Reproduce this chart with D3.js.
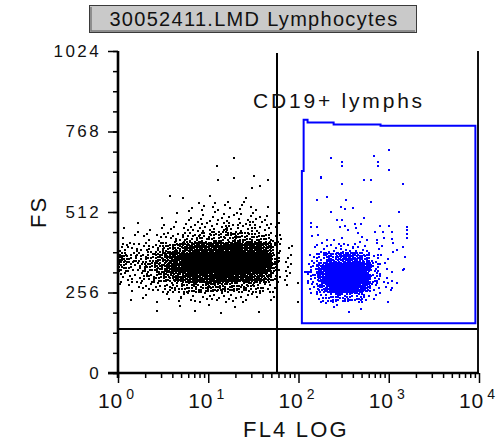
<!DOCTYPE html>
<html>
<head>
<meta charset="utf-8">
<script src="https://cdn.jsdelivr.net/npm/d3@7"></script>
<style>
  body { margin: 0; background: #fff; }
  svg text { font-family: "Liberation Sans", Arial, sans-serif; fill: #111; }
</style>
</head>
<body>
<div id="chart"></div>
<script>
const TITLE = "30052411.LMD Lymphocytes";
const GATE_LABEL = "CD19+ lymphs";
const X_LABEL = "FL4 LOG";
const Y_LABEL = "FS";
const Y_TICKS = [0, 256, 512, 768, 1024];
const X_DECADES = [0, 1, 2, 3, 4];
const QUAD_FL4 = 58;
const QUAD_FS = 140;

// gate polygon, [FL4, FS]
const GATE = [[109, 158], [109, 642], [114, 642], [114, 805], [126, 805], [126, 797],
  [245, 797], [245, 790], [811, 790], [811, 786], [9120, 786], [9120, 158]];

// black population: event counts per cell, columns are 0.1-decade FL4 bins from 10^0,
// rows are 32-channel FS bins (lower edge listed)
const BLACK_ROW_FS = [512, 480, 448, 416, 384, 352, 320, 288, 256, 224, 192];
const BLACK_COUNTS = [
  [0, 0, 0, 0, 0, 0, 0, 1, 2, 2, 2, 2, 2, 2, 2, 1, 1, 0, 0, 0],
  [0, 0, 0, 0, 1, 0, 1, 1, 2, 2, 3, 3, 3, 3, 3, 3, 2, 1, 0, 0],
  [1, 0, 1, 1, 1, 2, 2, 3, 4, 5, 5, 6, 6, 6, 6, 5, 4, 2, 0, 0],
  [1, 1, 2, 2, 3, 4, 5, 7, 9, 10, 11, 12, 12, 12, 12, 11, 9, 4, 1, 0],
  [5, 4, 5, 6, 8, 12, 17, 24, 30, 33, 36, 38, 39, 39, 38, 36, 27, 8, 1, 1],
  [16, 7, 9, 11, 16, 24, 35, 50, 60, 66, 70, 74, 75, 75, 74, 66, 50, 12, 2, 1],
  [14, 7, 9, 12, 18, 27, 38, 54, 64, 70, 74, 75, 75, 74, 70, 64, 46, 11, 2, 1],
  [5, 5, 6, 8, 12, 16, 22, 30, 36, 39, 42, 42, 42, 39, 36, 30, 21, 6, 2, 1],
  [1, 2, 3, 4, 5, 7, 9, 12, 13, 14, 16, 16, 14, 13, 12, 9, 6, 2, 1, 1],
  [0, 1, 1, 1, 1, 2, 2, 3, 3, 4, 4, 4, 3, 3, 3, 2, 1, 1, 0, 1],
  [0, 0, 0, 0, 1, 0, 1, 0, 1, 0, 1, 1, 0, 1, 0, 1, 0, 0, 0, 0]
];
const BLACK_SPARSE = [[19.2, 684], [12.5, 658], [12.8, 614], [19.2, 620], [31.9, 626], [45.6, 614],
  [37.2, 595], [30.4, 588], [3.76, 563], [5.24, 556], [10.4, 563], [26.1, 556]];

// blue (gated) population: columns start at 10^2.1
const BLUE_COL_START = 21;
const BLUE_ROW_FS = [384, 352, 320, 288, 256, 224, 192];
const BLUE_COUNTS = [
  [1, 3, 4, 5, 5, 5, 3, 2, 1, 1, 0, 0],
  [3, 10, 18, 24, 27, 24, 16, 5, 2, 1, 0, 0],
  [6, 26, 50, 64, 66, 60, 38, 9, 3, 1, 1, 0],
  [8, 32, 60, 72, 72, 64, 42, 9, 3, 1, 0, 0],
  [4, 18, 40, 52, 52, 44, 26, 5, 2, 1, 0, 0],
  [1, 6, 11, 14, 14, 11, 6, 2, 1, 0, 0, 0],
  [0, 0, 1, 1, 1, 1, 0, 0, 0, 0, 0, 0]
];
const BLUE_SPARSE = [[227, 684], [301, 671], [301, 658], [679, 690], [752, 671], [752, 658], [995, 709],
  [995, 646], [176, 623], [176, 620], [301, 601], [526, 614], [629, 614], [1422, 601], [159, 550],
  [205, 560], [333, 550], [629, 544], [293, 528], [324, 522], [398, 525], [227, 512], [1283, 512],
  [526, 493], [265, 487], [301, 487], [136, 477], [136, 464], [159, 464], [286, 464], [324, 467],
  [419, 474], [488, 474], [791, 467], [995, 467], [1573, 464], [1573, 455], [350, 455], [429, 461],
  [452, 445], [697, 448], [853, 448], [1074, 448], [1573, 442], [1573, 429], [140, 436], [163, 439],
  [205, 423], [245, 423], [301, 429], [500, 432], [568, 423], [733, 423], [876, 429], [1074, 426],
  [1250, 391], [1422, 401], [1496, 369], [1422, 328], [1250, 286], [1074, 270], [791, 254],
  [117, 321], [124, 321], [130, 321], [137, 321]];

const width = 499;
const height = 443;

const svg = d3.select("#chart").append("svg")
  .attr("width", width)
  .attr("height", height);

const x = d3.scaleLog().domain([1, 1e4]).range([118, 479]);
const y = d3.scaleLinear().domain([0, 1024]).range([373, 51]);

// spread each cell's count over the cell (fixed low-discrepancy layout, not random)
function cellEvents(counts, rowFs, colStart, seedBase) {
  const out = [];
  counts.forEach((row, r) => row.forEach((n, c) => {
    const seed = r * 37 + c * 11 + seedBase;
    for (let k = 0; k < n; k++) {
      const i = seed + k;
      const u = (0.5 + i * 0.7548776662) % 1;
      const v = (0.5 + i * 0.5698402910) % 1;
      out.push([Math.pow(10, (colStart + c + u) * 0.1), rowFs[r] + v * 32]);
    }
  }));
  return out;
}

const blackEvents = cellEvents(BLACK_COUNTS, BLACK_ROW_FS, 0, 3).concat(BLACK_SPARSE);
const blueEvents = cellEvents(BLUE_COUNTS, BLUE_ROW_FS, BLUE_COL_START, 7).concat(BLUE_SPARSE);

// title box
const gTitle = svg.append("g");
gTitle.append("rect")
  .attr("x", 89.5).attr("y", 5.5).attr("width", 327).attr("height", 27)
  .attr("fill", "#c9c9c9").attr("stroke", "#3a3a3a").attr("stroke-width", 1);
gTitle.append("path")
  .attr("d", "M91,7 V31 H415")
  .attr("fill", "none").attr("stroke", "#7a7a7a").attr("stroke-width", 1.5);
gTitle.append("text")
  .attr("x", 254).attr("y", 26)
  .attr("text-anchor", "middle")
  .style("font-size", "20px")
  .style("letter-spacing", "1.3px")
  .text(TITLE);

// dots
const gDots = svg.append("g").attr("shape-rendering", "crispEdges");
gDots.selectAll("rect.black")
  .data(blackEvents)
  .enter().append("rect")
  .attr("class", "black")
  .attr("x", d => Math.round(x(d[0])) - 1)
  .attr("y", d => Math.round(y(d[1])) - 1)
  .attr("width", 2).attr("height", 2)
  .attr("fill", "#000");
gDots.selectAll("rect.blue")
  .data(blueEvents)
  .enter().append("rect")
  .attr("class", "blue")
  .attr("x", d => Math.round(x(d[0])) - 1)
  .attr("y", d => Math.round(y(d[1])) - 1)
  .attr("width", 2).attr("height", 2)
  .attr("fill", "#0000ff");

// quadrant lines and right border
const gLines = svg.append("g").attr("shape-rendering", "crispEdges");
gLines.append("line")
  .attr("x1", x(1)).attr("x2", x(1e4) - 1)
  .attr("y1", Math.round(y(QUAD_FS))).attr("y2", Math.round(y(QUAD_FS)))
  .attr("stroke", "#000").attr("stroke-width", 2);
gLines.append("line")
  .attr("x1", Math.round(x(QUAD_FL4))).attr("x2", Math.round(x(QUAD_FL4)))
  .attr("y1", 53).attr("y2", y(0))
  .attr("stroke", "#000").attr("stroke-width", 2);
gLines.append("line")
  .attr("x1", 478).attr("x2", 478)
  .attr("y1", y(1024)).attr("y2", y(0))
  .attr("stroke", "#111").attr("stroke-width", 2);

// gate
svg.append("path")
  .datum(GATE)
  .attr("d", d3.line().x(d => x(d[0])).y(d => y(d[1])).curve(d3.curveLinearClosed))
  .attr("fill", "none")
  .attr("stroke", "#0000ff")
  .attr("stroke-width", 2);

svg.append("text")
  .attr("x", 253).attr("y", 108)
  .style("font-size", "21px")
  .style("letter-spacing", "2.8px")
  .text(GATE_LABEL);

// y axis
const yMinor = svg.append("g")
  .attr("transform", `translate(${x(1)},0)`)
  .call(d3.axisLeft(y).tickValues(d3.range(0, 1025, 64)).tickSize(5).tickSizeOuter(0).tickFormat(""));
yMinor.select(".domain").remove();
yMinor.selectAll("line").attr("stroke", "#000").attr("stroke-width", 1.5);

const yAxis = svg.append("g")
  .attr("transform", `translate(${x(1)},0)`)
  .call(d3.axisLeft(y).tickValues(Y_TICKS).tickSize(10).tickSizeOuter(0).tickPadding(7).tickFormat(d3.format("d")));
yAxis.select(".domain").attr("stroke", "#000").attr("stroke-width", 2.6)
  .attr("d", `M0,${y(1024)}V${y(0) + 5}`);
yAxis.selectAll("line").attr("stroke", "#000").attr("stroke-width", 1.5);
yAxis.selectAll("text")
  .style("font-size", "17px")
  .style("letter-spacing", "2.4px")
  .attr("fill", "#111");

// x axis
const minorX = [];
X_DECADES.slice(0, -1).forEach(e => {
  for (let m = 2; m <= 9; m++) minorX.push(m * Math.pow(10, e));
});
const xMinor = svg.append("g")
  .attr("transform", `translate(0,${y(0)})`)
  .call(d3.axisBottom(x).tickValues(minorX).tickSize(5).tickSizeOuter(0).tickFormat(""));
xMinor.select(".domain").remove();
xMinor.selectAll("line").attr("stroke", "#000").attr("stroke-width", 1.5);

const xAxis = svg.append("g")
  .attr("transform", `translate(0,${y(0)})`)
  .call(d3.axisBottom(x).tickValues(X_DECADES.map(e => Math.pow(10, e))).tickSize(10).tickSizeOuter(0).tickFormat(""));
xAxis.select(".domain").attr("stroke", "#000").attr("stroke-width", 2.6)
  .attr("d", `M${x(1) - 10},0H${x(1e4)}`);
xAxis.selectAll("line").attr("stroke", "#000").attr("stroke-width", 1.5);

const xLabels = svg.append("g").selectAll("text")
  .data(X_DECADES)
  .enter().append("text")
  .attr("x", e => x(Math.pow(10, e)) - 2)
  .attr("y", 408)
  .attr("text-anchor", "middle")
  .style("font-size", "21px");
xLabels.append("tspan").style("letter-spacing", "1px").text("10");
xLabels.append("tspan").attr("dx", 3).attr("dy", -9).style("font-size", "14px").text(e => e);

// axis titles
svg.append("text")
  .attr("x", 296).attr("y", 437)
  .attr("text-anchor", "middle")
  .style("font-size", "22px")
  .style("letter-spacing", "2.2px")
  .text(X_LABEL);

svg.append("text")
  .attr("transform", "translate(46,212) rotate(-90)")
  .attr("text-anchor", "middle")
  .style("font-size", "22px")
  .style("letter-spacing", "2px")
  .text(Y_LABEL);
</script>
</body>
</html>
